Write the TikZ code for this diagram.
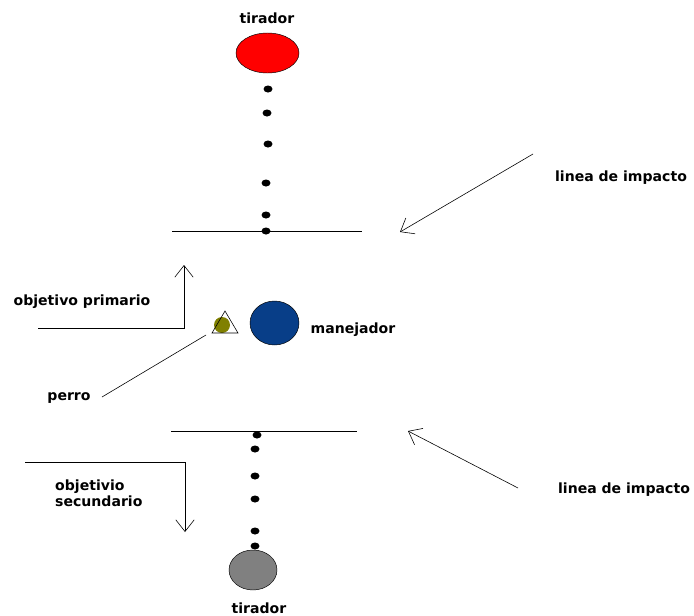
\documentclass[tikz,border=0pt]{standalone}
\usepackage{fontspec}
\setmainfont{DejaVu Sans}
\usetikzlibrary{arrows.meta,shapes.geometric}
\definecolor{azul}{RGB}{8,62,136}
\definecolor{oliva}{RGB}{128,128,0}
\definecolor{gris}{RGB}{128,128,128}

\begin{document}
\begin{tikzpicture}[x = 0.03cm, y = -0.03cm,
  etiqueta/.style = {font=\bfseries\fontsize{12}{14}\selectfont, inner sep=0pt},
  punto/.style = {fill=black, ellipse, inner sep=0pt, minimum width=0.27cm, minimum height=0.21cm},
  flecha/.style = {line width=0.5pt, -{Straight Barb[length=3.5mm, width=5.5mm, line width=0.5pt]}},
  linea/.style = {line width=0.6pt},]

\useasboundingbox (0,0) rectangle (694,616);

% tirador de arriba
\node[etiqueta] (T1) at (267,18) {tirador};
\node[ellipse, draw, fill=red, minimum width=1.89cm, minimum height=1.2cm] (R) at (267.5,53) {};
\node[punto] (P1) at (268,89) {};
\node[punto] (P2) at (267,113) {};
\node[punto] (P3) at (268,144) {};
\node[punto] (P4) at (266,183) {};
\node[punto] (P5) at (266,215) {};
\node[punto] (P6) at (266,231) {};

\coordinate (L1a) at (172,231);
\coordinate (L1b) at (362,231);
\draw[linea] (L1a) -- (L1b);

% linea de impacto
\node[etiqueta] (I1) at (621,178) {linea de impacto};
\coordinate (F1a) at (533,154);
\coordinate (F1b) at (400,232);
\draw[flecha] (F1a) -- (F1b);

% objetivo primario
\node[etiqueta] (O1) at (82,302) {objetivo primario};
\coordinate (O1a) at (38,328);
\coordinate (O1b) at (184,328);
\coordinate (O1c) at (184,265);
\draw[flecha] (O1a) -- (O1b) -- (O1c);

% perro y manejador
\node[circle, fill=oliva, inner sep=0pt, minimum size=0.48cm] (D) at (222,325) {};
\coordinate (Ta) at (225,311);
\coordinate (Tb) at (212,333);
\coordinate (Tc) at (238,333);
\draw[line width=0.5pt] (Ta) -- (Tb) -- (Tc) -- cycle;
\node[ellipse, draw, fill=azul, minimum width=1.47cm, minimum height=1.32cm] (M) at (274.5,323) {};
\node[etiqueta] (M1) at (353,330) {manejador};
\node[etiqueta] (Pe) at (69,398) {perro};
\coordinate (Pa) at (102,397);
\coordinate (Pb) at (206,335);
\draw[line width=0.5pt] (Pa) -- (Pb);

% tirador de abajo
\coordinate (L2a) at (171,431);
\coordinate (L2b) at (357,431);
\draw[linea] (L2a) -- (L2b);
\node[punto] (Q1) at (257,435) {};
\node[punto] (Q2) at (255,449) {};
\node[punto] (Q3) at (255,476) {};
\node[punto] (Q4) at (255,499) {};
\node[punto] (Q5) at (255,531) {};
\node[punto] (Q6) at (255,546) {};
\node[ellipse, draw, fill=gris, minimum width=1.44cm, minimum height=1.2cm] (G) at (253,570) {};
\node[etiqueta] (T2) at (259,608) {tirador};

% linea de impacto
\node[etiqueta] (I2) at (624,490) {linea de impacto};
\coordinate (F2a) at (518,488);
\coordinate (F2b) at (408,431);
\draw[flecha] (F2a) -- (F2b);

% objetivo secundario
\node[etiqueta, anchor=west, align=left] (O2) at (55,493) {objetivio\\secundario};
\coordinate (O2a) at (25,462);
\coordinate (O2b) at (185,462);
\coordinate (O2c) at (185,532);
\draw[flecha] (O2a) -- (O2b) -- (O2c);

\end{tikzpicture}
\end{document}
